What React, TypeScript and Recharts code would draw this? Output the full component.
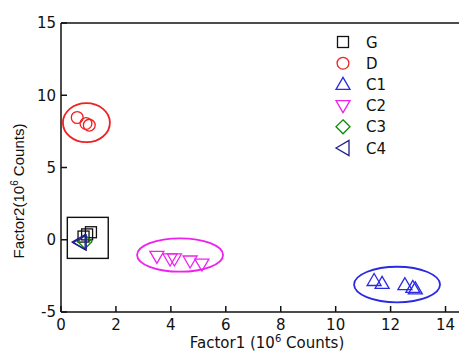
import React from 'react';
import { ScatterChart, Scatter, XAxis, YAxis, ReferenceArea, Legend, Label } from 'recharts';

// ---------- data ----------
const seriesNames = ['G', 'D', 'C1', 'C2', 'C3', 'C4'];
const gPoints = [
  { x: 0.82, y: 0.22 },
  { x: 0.95, y: 0.37 },
  { x: 1.09, y: 0.52 },
];
const dPoints = [
  { x: 0.59, y: 8.46 },
  { x: 0.91, y: 8.05 },
  { x: 1.03, y: 7.93 },
];
const c1Points = [
  { x: 11.4, y: -2.82 },
  { x: 11.69, y: -3.02 },
  { x: 12.52, y: -3.11 },
  { x: 12.81, y: -3.3 },
  { x: 12.9, y: -3.4 },
];
const c2Points = [
  { x: 3.49, y: -1.15 },
  { x: 3.97, y: -1.33 },
  { x: 4.13, y: -1.33 },
  { x: 4.7, y: -1.47 },
  { x: 5.13, y: -1.68 },
];
const c3Points = [{ x: 0.87, y: -0.14 }];
const c4Points = [
  { x: 0.66, y: -0.16 },
  { x: 0.7, y: -0.2 },
];
const xTicks = [0, 2, 4, 6, 8, 10, 12, 14];
const yTicks = [-5, 0, 5, 10, 15];
const xDomain = [0, 15];
const yDomain = [-5, 15];
// cluster outlines (data units)
const gBox = { x1: 0.23, x2: 1.72, y1: -1.29, y2: 1.55 };
const dRing = { x1: 0.07, x2: 1.78, y1: 6.75, y2: 9.45 };
const c2Ring = { x1: 2.77, x2: 5.9, y1: -2.21, y2: 0.1 };
const c1Ring = { x1: 10.67, x2: 13.8, y1: -4.33, y2: -1.87 };

// ---------- styles ----------
const COLORS: Record<string, string> = {
  G: '#111111',
  D: '#ee2222',
  C1: '#2a2ae0',
  C2: '#ee22ee',
  C3: '#0a8a0a',
  C4: '#1f1f8f',
};
const KINDS: Record<string, string> = {
  G: 'square',
  D: 'circle',
  C1: 'up',
  C2: 'down',
  C3: 'diamond',
  C4: 'left',
};
const FONT = '"DejaVu Sans", sans-serif';
const AXIS = '#111';

function Marker({ kind, cx, cy, color }: { kind: string; cx: number; cy: number; color: string }) {
  const sw = 1.3;
  const common = { fill: 'none', stroke: color, strokeWidth: sw };
  switch (kind) {
    case 'square':
      return <rect x={cx - 5.5} y={cy - 5.5} width={11} height={11} {...common} />;
    case 'circle':
      return <circle cx={cx} cy={cy} r={5.9} {...common} />;
    case 'up':
      return <polygon points={`${cx},${cy - 7} ${cx - 7},${cy + 5} ${cx + 7},${cy + 5}`} {...common} />;
    case 'down':
      return <polygon points={`${cx - 7},${cy - 5} ${cx + 7},${cy - 5} ${cx},${cy + 7}`} {...common} />;
    case 'diamond':
      return <polygon points={`${cx},${cy - 7} ${cx + 7},${cy} ${cx},${cy + 7} ${cx - 7},${cy}`} {...common} />;
    case 'left':
      return <polygon points={`${cx - 7},${cy} ${cx + 6},${cy - 7.5} ${cx + 6},${cy + 7.5}`} {...common} />;
    default:
      return null;
  }
}

const shapeFor = (name: string) => (p: any) => (
  <Marker kind={KINDS[name]} cx={p.cx} cy={p.cy} color={COLORS[name]} />
);

const ellipseShape = (color: string, sw: number) => (p: any) => {
  const { x, y, width, height } = p;
  return (
    <ellipse
      cx={x + width / 2}
      cy={y + height / 2}
      rx={Math.abs(width) / 2}
      ry={Math.abs(height) / 2}
      fill="none"
      stroke={color}
      strokeWidth={sw}
    />
  );
};

const rectShape = (color: string) => (p: any) => (
  <rect x={p.x} y={p.y} width={p.width} height={p.height} fill="none" stroke={color} strokeWidth={1.4} />
);

const renderLegend = () => (
  <svg width={90} height={130} style={{ display: 'block' }}>
    {seriesNames.map((n, i) => {
      const cy = 9 + i * 21.2;
      return (
        <g key={n}>
          <Marker kind={KINDS[n]} cx={10} cy={cy} color={COLORS[n]} />
          <text x={33} y={cy + 5.5} fontFamily={FONT} fontSize={15} fill="#111">
            {n}
          </text>
        </g>
      );
    })}
  </svg>
);

const XTitle = (props: any) => {
  const vb = props.viewBox;
  return (
    <text
      x={vb.x + vb.width / 2}
      y={vb.y + 36}
      textAnchor="middle"
      fontFamily={FONT}
      fontSize={15}
      fill="#111"
    >
      Factor1 (10
      <tspan dy={-6} fontSize={10}>6</tspan>
      <tspan dy={6}> Counts)</tspan>
    </text>
  );
};

const YTitle = () => {
  const x = 16;
  const y = 183;
  return (
    <text
      x={x}
      y={y}
      transform={`rotate(-90, ${x}, ${y})`}
      textAnchor="middle"
      fontFamily='"Liberation Sans", Arial, sans-serif'
      fontSize={15}
      fill="#111"
    >
      Factor2(10
      <tspan dy={-6} fontSize={10}>6</tspan>
      <tspan dy={6}> Counts)</tspan>
    </text>
  );
};

const tickStyle = { fontFamily: FONT, fontSize: 15, fill: '#111' };
const empty = () => '';

export default function App() {
  return (
    <div style={{ width: 459, height: 346, overflow: 'hidden', background: '#fff' }}>
      <style>{'html,body{overflow:hidden}'}</style>
      <ScatterChart width={480} height={346} margin={{ top: 5, right: 5, bottom: 2, left: 0 }}>
        <XAxis
          xAxisId="b"
          type="number"
          dataKey="x"
          domain={xDomain}
          ticks={xTicks}
          allowDataOverflow
          height={40}
          tickSize={-6}
          tickMargin={13}
          tick={tickStyle}
          axisLine={{ stroke: AXIS, strokeWidth: 1.5 }}
          tickLine={{ stroke: AXIS, strokeWidth: 1.5 }}
        >
          <Label content={XTitle} />
        </XAxis>
        <XAxis
          xAxisId="t"
          orientation="top"
          type="number"
          domain={xDomain}
          ticks={xTicks}
          allowDataOverflow
          height={10}
          tickSize={-6}
          tickFormatter={empty}
          axisLine={{ stroke: AXIS, strokeWidth: 1.5 }}
          tickLine={{ stroke: AXIS, strokeWidth: 1.5 }}
        />
        <YAxis
          yAxisId="l"
          type="number"
          dataKey="y"
          domain={yDomain}
          ticks={yTicks}
          allowDataOverflow
          width={53}
          tickSize={-6}
          tickMargin={11}
          tick={tickStyle}
          axisLine={{ stroke: AXIS, strokeWidth: 1.5 }}
          tickLine={{ stroke: AXIS, strokeWidth: 1.5 }}
        >
          <Label content={YTitle} />
        </YAxis>
        <YAxis
          yAxisId="r"
          orientation="right"
          type="number"
          domain={yDomain}
          ticks={yTicks}
          allowDataOverflow
          width={10}
          tickSize={-6}
          tickFormatter={empty}
          axisLine={{ stroke: AXIS, strokeWidth: 1.5 }}
          tickLine={{ stroke: AXIS, strokeWidth: 1.5 }}
        />
        <ReferenceArea xAxisId="b" yAxisId="l" {...gBox} shape={rectShape('#111')} />
        <ReferenceArea xAxisId="b" yAxisId="l" {...dRing} shape={ellipseShape(COLORS.D, 1.8)} />
        <ReferenceArea xAxisId="b" yAxisId="l" {...c2Ring} shape={ellipseShape(COLORS.C2, 1.8)} />
        <ReferenceArea xAxisId="b" yAxisId="l" {...c1Ring} shape={ellipseShape(COLORS.C1, 1.8)} />
        <Scatter xAxisId="b" yAxisId="l" name="G" data={gPoints} shape={shapeFor('G')} isAnimationActive={false} />
        <Scatter xAxisId="b" yAxisId="l" name="D" data={dPoints} shape={shapeFor('D')} isAnimationActive={false} />
        <Scatter xAxisId="b" yAxisId="l" name="C1" data={c1Points} shape={shapeFor('C1')} isAnimationActive={false} />
        <Scatter xAxisId="b" yAxisId="l" name="C2" data={c2Points} shape={shapeFor('C2')} isAnimationActive={false} />
        <Scatter xAxisId="b" yAxisId="l" name="C3" data={c3Points} shape={shapeFor('C3')} isAnimationActive={false} />
        <Scatter xAxisId="b" yAxisId="l" name="C4" data={c4Points} shape={shapeFor('C4')} isAnimationActive={false} />
        <Legend
          layout="vertical"
          align="center"
          verticalAlign="middle"
          content={renderLegend}
          wrapperStyle={{ position: 'absolute', left: 325, top: 25, width: 90, height: 130 }}
        />
      </ScatterChart>
    </div>
  );
}
